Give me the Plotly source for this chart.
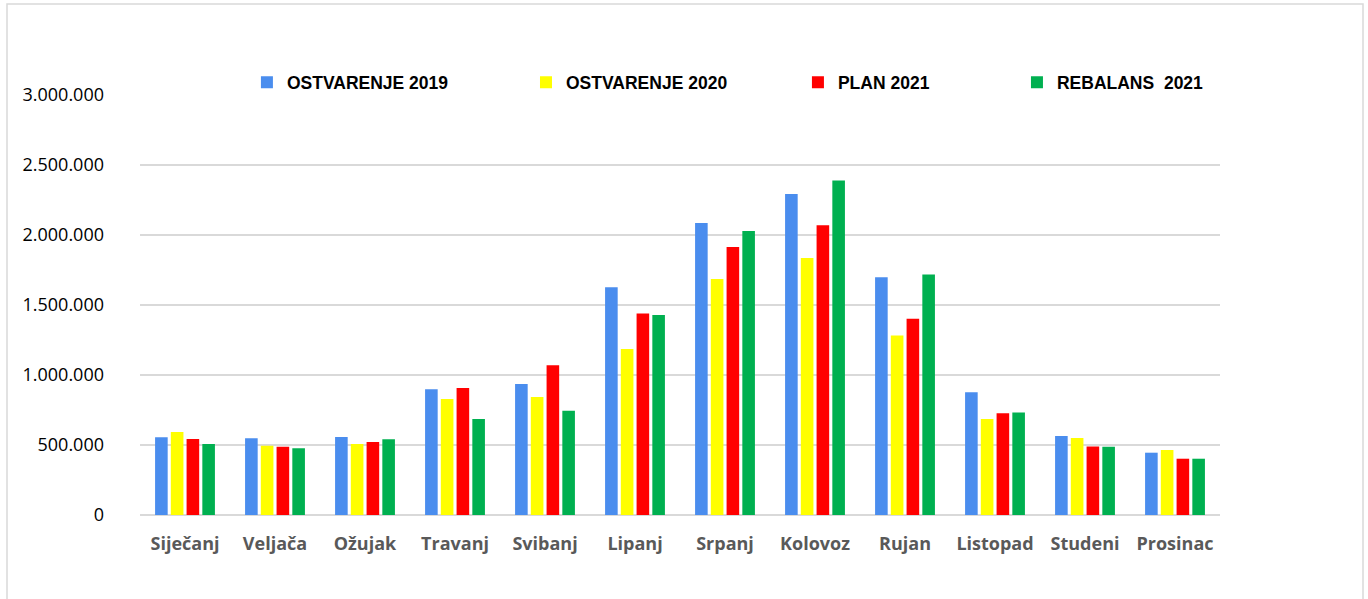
import plotly.graph_objects as go

months = ["Siječanj", "Veljača", "Ožujak", "Travanj", "Svibanj", "Lipanj",
          "Srpanj", "Kolovoz", "Rujan", "Listopad", "Studeni", "Prosinac"]

ostvarenje_2019 = [555000, 548000, 557000, 898000, 936000, 1626000,
                   2086000, 2293000, 1698000, 876000, 564000, 445000]
ostvarenje_2020 = [593000, 495000, 507000, 829000, 843000, 1186000,
                   1686000, 1836000, 1283000, 686000, 550000, 464000]
plan_2021 = [543000, 488000, 521000, 907000, 1069000, 1440000,
             1914000, 2069000, 1402000, 726000, 490000, 402000]
rebalans_2021 = [507000, 476000, 541000, 686000, 745000, 1429000,
                 2029000, 2390000, 1717000, 733000, 488000, 402000]

series_names = ["OSTVARENJE 2019", "OSTVARENJE 2020", "PLAN 2021", "REBALANS  2021"]
series_values = [ostvarenje_2019, ostvarenje_2020, plan_2021, rebalans_2021]
colors = ["#4A8DEE", "#FFFF00", "#FF0000", "#00B050"]
legend_ids = ["legend", "legend2", "legend3", "legend4"]
legend_x = [0.0990, 0.3574, 0.6092, 0.8120]

W, H = 1368, 599
L, R, T, B = 140, 148, 95, 84
pw, ph = W - L - R, H - T - B

fig = go.Figure()
for name, vals, col, lid in zip(series_names, series_values, colors, legend_ids):
    fig.add_trace(go.Bar(
        x=months, y=vals, name=name, marker=dict(color=col, line=dict(width=0)),
        legend=lid,
    ))

legend_font = dict(family="Liberation Sans", size=17.5, color="#000000", weight="bold")
layout_legends = {}
for lid, lx in zip(legend_ids, legend_x):
    layout_legends[lid] = dict(
        x=lx, y=1.0298, xanchor="left", yanchor="middle",
        orientation="h", font=legend_font, bgcolor="rgba(0,0,0,0)",
        itemwidth=30, itemclick=False, itemdoubleclick=False,
    )

fig.update_layout(
    width=W, height=H,
    margin=dict(l=L, r=R, t=T, b=B, autoexpand=False),
    paper_bgcolor="white", plot_bgcolor="white",
    separators=",.",
    barmode="group", bargap=0.3, bargroupgap=0.2,
    showlegend=True,
    **layout_legends,
    xaxis=dict(
        tickfont=dict(family="Open Sans", size=18, color="#595959", weight="bold"),
        showgrid=False, showline=False, ticks="", ticklabelstandoff=16,
    ),
    yaxis=dict(
        range=[0, 3000000], tickvals=[0, 500000, 1000000, 1500000, 2000000, 2500000, 3000000],
        tickformat=",.0f",
        tickfont=dict(family="Open Sans", size=18, color="#000000"),
        showgrid=True, gridcolor="#D9D9D9", gridwidth=1.5,
        zeroline=True, zerolinecolor="#D9D9D9", zerolinewidth=1.5,
        showline=False, ticks="", ticklabelstandoff=35,
    ),
    shapes=[dict(
        type="rect", xref="paper", yref="paper",
        x0=(7 - L) / pw, x1=(1363 - L) / pw,
        y0=-(650 - (T + ph)) / ph, y1=1 + (T - 4) / ph,
        line=dict(color="#D9D9D9", width=1.5), fillcolor="rgba(0,0,0,0)",
        layer="below",
    )],
)

fig.write_html("out.html", config={"displayModeBar": False},
               post_script="document.body.style.margin='0';")
